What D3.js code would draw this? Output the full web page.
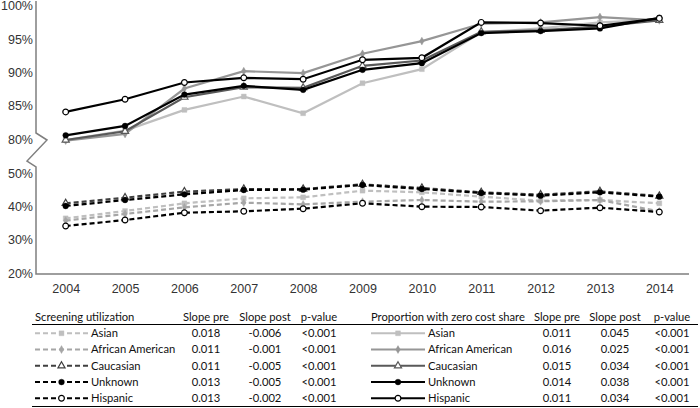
<!DOCTYPE html>
<html>
<head>
<meta charset="utf-8">
<script src="https://cdn.jsdelivr.net/npm/d3@7"></script>
<style>
  body { margin: 0; background: #fff; }
  svg { display: block; font-family: Lato, "Open Sans", sans-serif; }
</style>
</head>
<body>
<div id="chart"></div>
<script>
const years = [2004, 2005, 2006, 2007, 2008, 2009, 2010, 2011, 2012, 2013, 2014];
const groups = ['Asian', 'African American', 'Caucasian', 'Unknown', 'Hispanic'];

// proportion with zero cost share (%)
const zeroAsian    = [79.9, 81.3, 84.4, 86.4, 83.9, 88.4, 90.5, 96.0, 96.6, 97.5, 97.9];
const zeroAfrAm    = [79.8, 80.8, 87.6, 90.2, 89.9, 92.8, 94.7, 97.3, 97.5, 98.3, 97.8];
const zeroCauc     = [79.9, 81.2, 86.3, 87.8, 87.7, 91.0, 91.8, 96.1, 96.3, 96.9, 97.8];
const zeroUnknown  = [80.6, 82.0, 86.7, 88.0, 87.4, 90.4, 91.4, 95.9, 96.2, 96.6, 98.2];
const zeroHispanic = [84.1, 86.0, 88.5, 89.2, 89.0, 91.9, 92.2, 97.5, 97.4, 97.0, 98.1];

// screening utilization (%)
const screenAsian    = [36.4, 38.6, 40.9, 42.4, 42.7, 44.7, 44.2, 42.9, 41.7, 41.9, 40.9];
const screenAfrAm    = [35.7, 37.7, 39.7, 41.1, 40.6, 41.4, 41.9, 41.4, 41.5, 41.9, 38.5];
const screenCauc     = [40.9, 42.6, 44.4, 45.2, 45.2, 46.6, 45.5, 44.2, 43.5, 44.5, 43.1];
const screenUnknown  = [40.1, 41.9, 43.6, 44.9, 45.0, 46.4, 45.2, 44.0, 43.2, 44.2, 42.9];
const screenHispanic = [34.1, 35.9, 38.1, 38.5, 39.3, 40.9, 39.9, 39.8, 38.7, 39.6, 38.3];

const screenSlopePre  = ['0.018', '0.011', '0.011', '0.013', '0.013'];
const screenSlopePost = ['-0.006', '-0.001', '-0.005', '-0.005', '-0.002'];
const screenP         = ['<0.001', '<0.001', '<0.001', '<0.001', '<0.001'];
const zeroSlopePre    = ['0.011', '0.016', '0.015', '0.014', '0.011'];
const zeroSlopePost   = ['0.045', '0.025', '0.034', '0.038', '0.034'];
const zeroP           = ['<0.001', '<0.001', '<0.001', '<0.001', '<0.001'];

const upperTicks = [80, 85, 90, 95, 100];
const lowerTicks = [20, 30, 40, 50];

const zeroSeries = [zeroAsian, zeroAfrAm, zeroCauc, zeroUnknown, zeroHispanic];
const screenSeries = [screenAsian, screenAfrAm, screenCauc, screenUnknown, screenHispanic];

// look per group
const solidColor  = ['#bfbfbf', '#969696', '#595959', '#000', '#000'];
const dashColor   = ['#bfbfbf', '#a6a6a6', '#404040', '#000', '#000'];
const symbols     = [d3.symbolSquare, d3.symbolDiamond, d3.symbolTriangle, d3.symbolCircle, d3.symbolCircle];
const symSize     = [24, 18, 22, 26, 26];
const hollow      = [false, false, true, false, true];

const W = 700, H = 408;
const svg = d3.select('#chart').append('svg').attr('width', W).attr('height', H);

const x = d3.scalePoint().domain(years).range([36, 689]).padding(0.5);
const yTop = d3.scaleLinear().domain([80, 100]).range([139.3, 5.7]);
const yBot = d3.scaleLinear().domain([20, 50]).range([273, 173]);

// axes (labels only; lines drawn by hand because of the break)
const tickFont = g => g.selectAll('text').attr('font-size', 12.5).attr('fill', '#333');
svg.append('g').attr('transform', 'translate(33,0)')
  .call(d3.axisLeft(yTop).tickValues(upperTicks).tickSize(0).tickPadding(0).tickFormat(d => d + '%'))
  .call(g => g.select('.domain').remove()).call(tickFont);
svg.append('g').attr('transform', 'translate(33,0)')
  .call(d3.axisLeft(yBot).tickValues(lowerTicks).tickSize(0).tickPadding(0).tickFormat(d => d + '%'))
  .call(g => g.select('.domain').remove()).call(tickFont);
svg.append('g').attr('transform', 'translate(0,274)')
  .call(d3.axisBottom(x).tickSize(0).tickPadding(10))
  .call(g => g.select('.domain').remove()).call(tickFont);

// y axis with zig-zag break, x axis line
svg.append('path')
  .attr('d', 'M36,1 L36,133 L47,140 L27,161 L36,167 L36,274 L689,274')
  .attr('fill', 'none').attr('stroke', '#7f7f7f').attr('stroke-width', 1.5);

function drawMarkers(g, pts, i, color) {
  g.selectAll(null).data(pts).join('path')
    .attr('transform', d => `translate(${d[0]},${d[1]})`)
    .attr('d', d3.symbol(symbols[i], symSize[i]))
    .attr('fill', hollow[i] ? '#fff' : color)
    .attr('stroke', color).attr('stroke-width', hollow[i] ? 1.2 : 0.4);
}

// screening utilization (dashed)
screenSeries.forEach((vals, i) => {
  const pts = vals.map((v, k) => [x(years[k]), yBot(v)]);
  const g = svg.append('g');
  g.append('path').attr('d', d3.line()(pts))
    .attr('fill', 'none').attr('stroke', dashColor[i]).attr('stroke-width', 2.2)
    .attr('stroke-dasharray', '5,3');
  drawMarkers(g, pts, i, dashColor[i]);
});

// zero cost share (solid)
zeroSeries.forEach((vals, i) => {
  const pts = vals.map((v, k) => [x(years[k]), yTop(v)]);
  const g = svg.append('g');
  g.append('path').attr('d', d3.line()(pts))
    .attr('fill', 'none').attr('stroke', solidColor[i]).attr('stroke-width', 2.2);
  drawMarkers(g, pts, i, solidColor[i]);
});

// table legend
const rowY = d3.scalePoint().domain(groups).range([333.3, 398.3]);
const headY = 316.7;
svg.append('line').attr('x1', 32).attr('x2', 698).attr('y1', 324.5).attr('y2', 324.5)
  .attr('stroke', '#000').attr('stroke-width', 1);
svg.append('line').attr('x1', 32).attr('x2', 698).attr('y1', 406.5).attr('y2', 406.5)
  .attr('stroke', '#000').attr('stroke-width', 1);

function txt(str, tx, ty, anchor) {
  svg.append('text').attr('x', tx).attr('y', ty).attr('dy', '0.35em')
    .attr('text-anchor', anchor || 'start').attr('font-size', 11.2).attr('fill', '#111').text(str);
}

function table(opts) {
  txt(opts.title, opts.x0, headY);
  txt('Slope pre', opts.cPre, headY, 'middle');
  txt('Slope post', opts.cPost, headY, 'middle');
  txt('p-value', opts.cP, headY, 'middle');
  groups.forEach((name, i) => {
    const yy = rowY(name);
    const color = opts.colors[i];
    const g = svg.append('g');
    g.append('line').attr('x1', opts.x0).attr('x2', opts.x1).attr('y1', yy).attr('y2', yy)
      .attr('stroke', color).attr('stroke-width', 2)
      .attr('stroke-dasharray', opts.dash || null);
    drawMarkers(g, [[(opts.x0 + opts.x1) / 2, yy]], i, color);
    txt(name, opts.x1 + 3, yy);
    txt(opts.pre[i], opts.cPre, yy, 'middle');
    txt(opts.post[i], opts.cPost, yy, 'middle');
    txt(opts.p[i], opts.cP, yy, 'middle');
  });
}

table({ title: 'Screening utilization', x0: 35, x1: 88, cPre: 206, cPost: 265, cP: 319,
  colors: dashColor, dash: '5,3', pre: screenSlopePre, post: screenSlopePost, p: screenP });
table({ title: 'Proportion with zero cost share', x0: 371, x1: 425, cPre: 557, cPost: 615, cP: 672,
  colors: solidColor, pre: zeroSlopePre, post: zeroSlopePost, p: zeroP });
</script>
</body>
</html>
